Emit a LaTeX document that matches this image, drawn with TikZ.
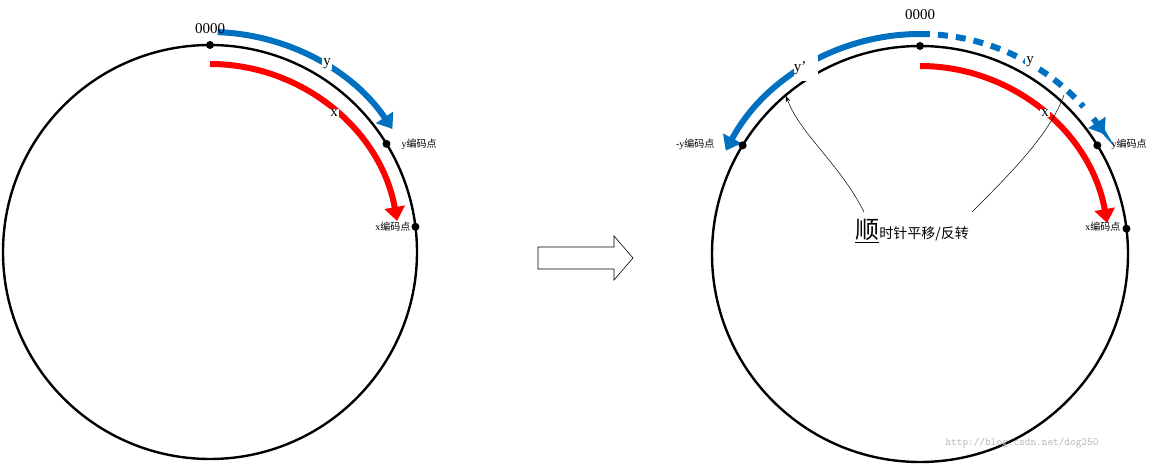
\documentclass[tikz,border=0pt]{standalone}
\usepackage{fontspec}
\setmainfont{Liberation Serif}
\newfontfamily\cjk{Noto Sans CJK SC}
\usetikzlibrary{arrows.meta}
\begin{document}
\begin{tikzpicture}[x=1pt,y=1pt,
  circ/.style={line width=2.4pt},
  dot/.style={circle,fill=black,inner sep=0pt,minimum size=8pt},
  blu/.style={line width=6pt,draw={rgb,255:red,0;green,112;blue,192},-{Triangle[length=14pt,width=20pt]}},
  redarr/.style={line width=6pt,draw=red,-{Triangle[length=14pt,width=20pt]}},
  lbl/.style={font=\fontsize{10}{12}\selectfont},
  wlbl/.style={fill=white,inner sep=1pt,font=\fontsize{15}{16}\selectfont}]
\useasboundingbox (0,0) rectangle (1168,464);
% left
\coordinate (L) at (210,212);
\draw[circ] (L) circle (207);
\draw[blu] ([shift={(88:220)}]L) arc (88:34:220);
\draw[redarr] ([shift={(90:188)}]L) arc (90:10:190);
\node[dot] (l0) at ([shift={(90:207)}]L) {};
\node[dot] (ly) at ([shift={(31.5:207)}]L) {};
\node[dot] (lx) at ([shift={(7:207)}]L) {};
\node[font=\fontsize{15}{16}\selectfont] (l0t) at (210,435) {0000};
\node[wlbl] (lyt) at (327,400) {y};
\node[wlbl] (lxt) at (334,351) {x};
\node[lbl,anchor=west] (lyl) at (398,320) {y{\cjk 编码点}};
\node[lbl,anchor=east] (lxl) at (414,237) {x{\cjk 编码点}};
% big arrow
\draw[line width=0.6pt] (538,217) -- (614,217) -- (614,228) -- (633,206) -- (614,184) -- (614,195) -- (538,195) -- cycle;
% right
\coordinate (R) at (920,210);
\draw[circ] (R) circle (208);
\draw[blu] ([shift={(90:220)}]R) arc (90:152:220);
\draw[line width=6pt,draw={rgb,255:red,0;green,112;blue,192},dash pattern=on 10pt off 8pt] ([shift={(90:220)}]R) arc (90:42:220);
\draw[line width=6pt,draw={rgb,255:red,0;green,112;blue,192},-{Triangle[length=14pt,width=20pt]}] ([shift={(38:220)}]R) arc (38:33:220);
\draw[redarr] ([shift={(90:188)}]R) arc (90:10:190);
\node[fill=white,minimum width=24pt,minimum height=30pt] (gap) at (806,398) {};
\node[font=\fontsize{15}{16}\selectfont] (ypt) at (800,396) {y’};
\node[dot] (r0) at ([shift={(90:208)}]R) {};
\node[dot] (ry) at ([shift={(31.5:208)}]R) {};
\node[dot] (rx) at ([shift={(7:208)}]R) {};
\node[dot] (rmy) at ([shift={(148.5:208)}]R) {};
\node[font=\fontsize{15}{16}\selectfont] (r0t) at (920,449) {0000};
\node[wlbl] (ryt) at (1030,402) {y};
\node[wlbl] (rxt) at (1045,351) {x};
\node[lbl,anchor=west] (ryl) at (1108,320) {y{\cjk 编码点}};
\node[lbl,anchor=east] (rxl) at (1124,237) {x{\cjk 编码点}};
\node[lbl,anchor=east] (rmyl) at (718,320) {-y{\cjk 编码点}};
\node (cap) at (912,233) {\underline{\cjk\fontsize{24}{26}\selectfont 顺}{\cjk\fontsize{14}{16}\selectfont 时针平移/反转}};
\coordinate (c1) at (786,368);
\coordinate (c2) at (1064,369);
\draw[line width=0.5pt,-{Stealth[length=6pt]}] (864,252) .. controls (840,300) and (800,330) .. (c1);
\draw[line width=0.5pt] (972,252) .. controls (1010,290) and (1050,330) .. (c2);
\node[text=gray!60,font=\ttfamily\fontsize{11}{12}\selectfont] (wm) at (1022,21) {http://blog.csdn.net/dog250};
\end{tikzpicture}
\end{document}
